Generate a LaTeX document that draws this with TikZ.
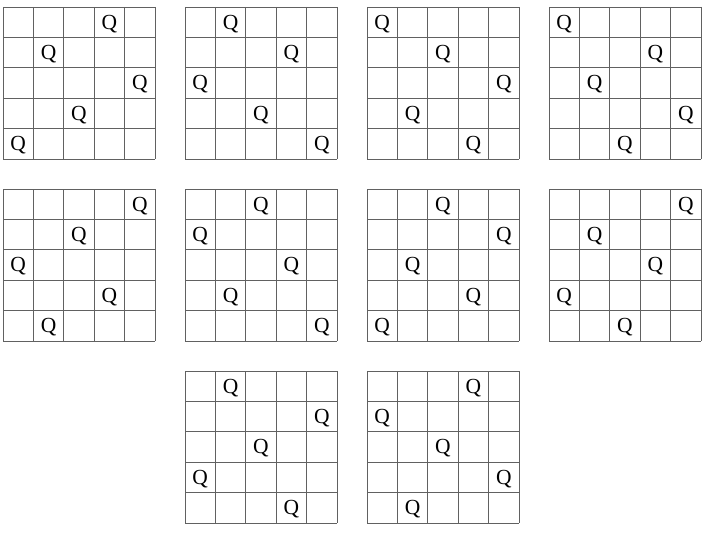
\documentclass[tikz,border=0pt]{standalone}
\usepackage{fontspec}
\setmainfont{Liberation Serif}
\tikzset{
  gridline/.style={draw=black!62, line width=0.9pt},
  queen/.style={font=\fontsize{21.5}{21.5}\selectfont, inner sep=0pt, text=black}
}
\begin{document}
\begin{tikzpicture}[x=1pt,y=-1pt]
\useasboundingbox (0,0) rectangle (703,535);
\def\s{30.4}
\foreach \bx/\by/\cols [count=\b] in {3/7/{3,1,4,2,0}, 185/7/{1,3,0,2,4}, 367/7/{0,2,4,1,3}, 549/7/{0,3,1,4,2}, 3/189/{4,2,0,3,1}, 185/189/{2,0,3,1,4}, 367/189/{2,4,1,3,0}, 549/189/{4,1,3,0,2}, 185/371/{1,4,2,0,3}, 367/371/{3,0,2,4,1}} {
  \foreach \i in {0,...,5} {
    \draw[gridline] (\bx+\i*\s, \by) -- (\bx+\i*\s, \by+5*\s);
    \draw[gridline] (\bx, \by+\i*\s) -- (\bx+5*\s, \by+\i*\s);
  }
  \foreach \c [count=\r from 0] in \cols {
    \node[queen] (q\b-\r) at (\bx+\c*\s+\s/2, \by+\r*\s+\s/2+1.5) {Q};
  }
}
\end{tikzpicture}
\end{document}
